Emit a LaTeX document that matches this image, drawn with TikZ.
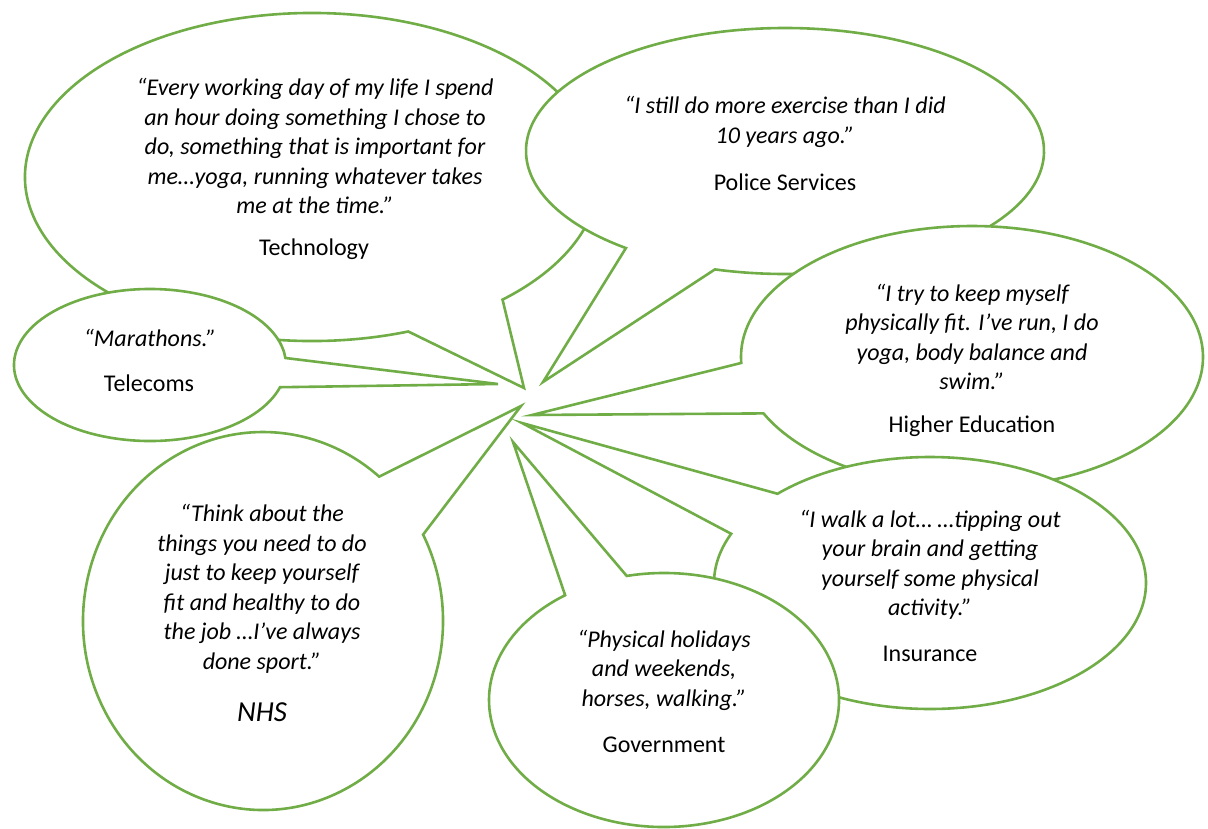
\documentclass[tikz,border=0pt]{standalone}
\usepackage{fontspec}
\setmainfont{Carlito}
\definecolor{bubblegreen}{HTML}{70AD47}
\tikzset{
  bubble/.style={draw=bubblegreen, line width=2.6pt, fill=white},
  quotetext/.style={align=center, font=\fontsize{24}{29.5}\selectfont\itshape, inner sep=0pt},
  sectorname/.style={font=\fontsize{24}{28}\selectfont, inner sep=0pt}
}
\begin{document}
\begin{tikzpicture}[x=1pt, y=-1pt]
  \useasboundingbox (0,0) rectangle (1208,828);

  % centres of the ovals and the points of their tails
  \coordinate (techc) at (312,177);
  \coordinate (telc) at (150,365);
  \coordinate (polc) at (785,151);
  \coordinate (hedc) at (972,357);
  \coordinate (insc) at (930,583);
  \coordinate (govc) at (664,700);
  \coordinate (nhsc) at (263,621);

  \coordinate (techtip) at (524,388);
  \coordinate (teltip) at (498,384);
  \coordinate (poltip) at (543,382);
  \coordinate (hedtip) at (532,415);
  \coordinate (instip) at (522,423);
  \coordinate (govtip) at (513,442);
  \coordinate (nhstip) at (521,406);

  % bubbles, back to front
  \draw[bubble] (techc) ++(70.4:287 and 164) arc[start angle=70.4, end angle=408.4, x radius=287, y radius=164] -- (techtip) -- cycle;
  \draw[bubble] (telc) ++(17:136 and 76) arc[start angle=17, end angle=354.7, x radius=136, y radius=76] -- (teltip) -- cycle;
  \draw[bubble] (polc) ++(127.9:259 and 123) arc[start angle=127.9, end angle=465.7, x radius=259, y radius=123] -- (poltip) -- cycle;
  \draw[bubble] (hedc) ++(177.4:231 and 131) arc[start angle=177.4, end angle=514.5, x radius=231, y radius=131] -- (hedtip) -- cycle;
  \draw[bubble] (insc) ++(225.1:216 and 126) arc[start angle=225.1, end angle=563, x radius=216, y radius=126] -- (instip) -- cycle;
  \draw[bubble] (govc) ++(257.7:175 and 127) arc[start angle=257.7, end angle=595.6, x radius=175, y radius=127] -- (govtip) -- cycle;
  \draw[bubble] (nhsc) ++(332.8:180 and 189) arc[start angle=332.8, end angle=670.2, x radius=180, y radius=189] -- (nhstip) -- cycle;

  % texts
  \node[quotetext] (techq) at (315,146) {“Every working day of my life I spend\\an hour doing something I chose to\\do, something that is important for\\me…yoga, running whatever takes\\me at the time.”};
  \node[sectorname] (techl) at (314,249) {Technology};

  \node[quotetext] (telq) at (150,338) {“Marathons.”};
  \node[sectorname] (tell) at (149,383) {Telecoms};

  \node[quotetext] (polq) at (785,122) {“I still do more exercise than I did\\10 years ago.”};
  \node[sectorname] (poll) at (785,182) {Police Services};

  \node[quotetext] (hedq) at (972,337) {“I try to keep myself\\physically fit. I’ve run, I do\\yoga, body balance and\\swim.”};
  \node[sectorname] (hedl) at (972,426) {Higher Education};

  \node[quotetext] (insq) at (930,565) {“I walk a lot… …tipping out\\your brain and getting\\yourself some physical\\activity.”};
  \node[sectorname] (insl) at (930,654) {Insurance};

  \node[quotetext] (govq) at (664,670) {“Physical holidays\\and weekends,\\horses, walking.”};
  \node[sectorname] (govl) at (664,745) {Government};

  \node[quotetext] (nhsq) at (262,589) {“Think about the\\things you need to do\\just to keep yourself\\fit and healthy to do\\the job …I’ve always\\done sport.”};
  \node[sectorname, font=\fontsize{29}{32}\selectfont\itshape] (nhsl) at (262,712) {NHS};
\end{tikzpicture}
\end{document}
